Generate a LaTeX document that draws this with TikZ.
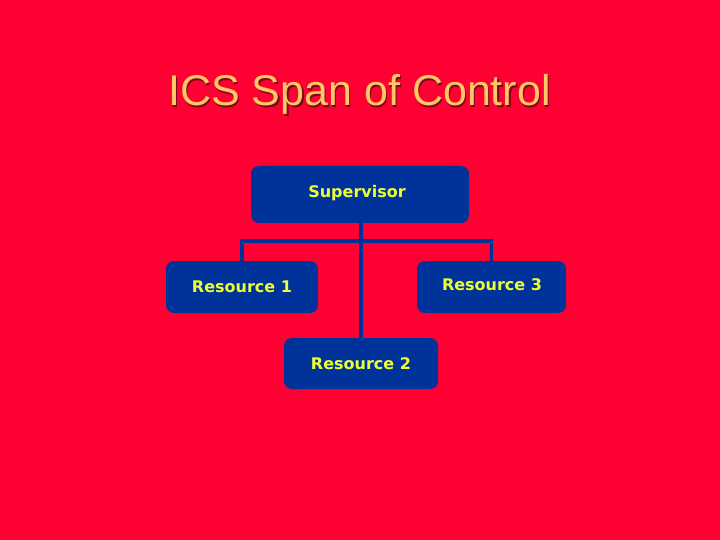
\documentclass[tikz,border=0pt]{standalone}
\usepackage{fontspec}
\newfontfamily\titlefont{Liberation Sans}
\newfontfamily\boxfont{DejaVu Sans}
\usetikzlibrary{positioning, calc}
\definecolor{slidered}{HTML}{FF0033}
\definecolor{boxblue}{HTML}{003399}
\definecolor{titleorange}{HTML}{FFC766}
\definecolor{shadowred}{HTML}{7A0A18}
\definecolor{labelyellow}{HTML}{EEFF33}
\tikzset{
  rolebox/.style={draw=none, fill=boxblue, rounded corners=8pt,
                  font=\boxfont\bfseries\fontsize{16}{19}\selectfont,
                  text=labelyellow, align=center, inner sep=0pt},
  boxlabel/.style={font=\boxfont\bfseries\fontsize{16}{19}\selectfont, text=labelyellow},
  conn/.style={draw=boxblue, line width=3.5pt},
  titletext/.style={font=\titlefont\fontsize{43}{50}\selectfont, inner sep=0pt},
}
\begin{document}
\begin{tikzpicture}[x=1pt, y=1pt]

  %% background of the slide
  \fill[slidered] (0,0) rectangle (720,-540);
  \useasboundingbox (0,0) rectangle (720,-540);

  %% title with its shadow
  \node[titletext, text=shadowred] (titleshadow) at (361,-96) {ICS Span of Control};
  \node[titletext, text=titleorange] (title) at (359.5,-94.5) {ICS Span of Control};

  %% boxes
  \node[rolebox, minimum width=218pt, minimum height=57pt] (sup) at (360,-194.5) {};
  \node[boxlabel] (suplabel) at (357,-193) {Supervisor};

  \node[rolebox, minimum width=152pt, minimum height=52pt] (res1) at (242,-287) {Resource 1};
  \node[rolebox, minimum width=149pt, minimum height=52pt] (res3) at (491.5,-287) {};
  \node[boxlabel] (res3label) at (492,-285) {Resource 3};
  \node[rolebox, minimum width=154pt, minimum height=51pt] (res2) at (361,-363.5) {Resource 2};

  %% connectors
  \coordinate (bar) at ([yshift=-18pt]sup.south);
  \draw[conn] (sup.south -| res2.north) -- (res2.north);
  \draw[conn] (res1.north) |- (bar) -| (res3.north);

\end{tikzpicture}
\end{document}
